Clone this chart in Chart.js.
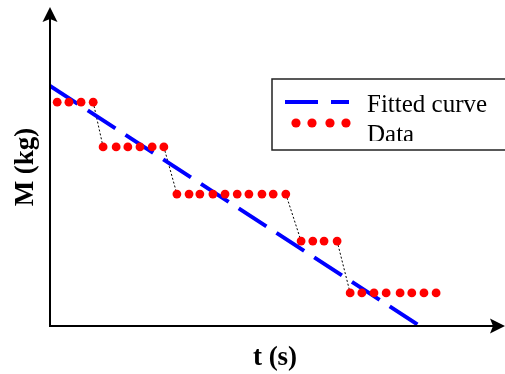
<!DOCTYPE html>
<html>
<head>
<meta charset="utf-8">
<script src="https://cdn.jsdelivr.net/npm/chart.js@4"></script>
<style>
html,body{margin:0;padding:0;background:#fff;}
#wrap{position:relative;width:505px;height:374px;}
</style>
</head>
<body>
<div id="wrap"><canvas id="c" width="505" height="374"></canvas></div>
<script>
// Data (arbitrary units: t in 0..100, M in 0..100)
const dataT = [1.6, 4.2, 6.9, 9.6,
  11.8, 14.7, 17.3, 20.0, 22.7, 25.3,
  28.2, 30.9, 33.3, 36.2, 38.9, 41.6, 44.2, 47.1, 49.6, 52.4,
  55.8, 58.4, 60.9, 63.8,
  66.7, 69.3, 72.0, 74.7, 77.8, 80.4, 83.1, 85.8];
const dataM = [70.4, 70.4, 70.4, 70.4,
  56.3, 56.3, 56.3, 56.3, 56.3, 56.3,
  41.5, 41.5, 41.5, 41.5, 41.5, 41.5, 41.5, 41.5, 41.5, 41.5,
  26.7, 26.7, 26.7, 26.7,
  10.4, 10.4, 10.4, 10.4, 10.4, 10.4, 10.4, 10.4];
const fitT = [0, 82.2];
const fitM = [75.5, 0];
// thin dotted links between consecutive steps (null = break)
const linkT = [9.6, 11.8, null, 25.3, 28.2, null, 52.4, 55.8, null, 63.8, 66.7];
const linkM = [70.4, 56.3, null, 56.3, 41.5, null, 41.5, 26.7, null, 26.7, 10.4];
const labels = ['Fitted curve', 'Data'];
const xTitle = 't (s)';
const yTitle = 'M (kg)';

const pts = (xs, ys) => xs.map((x, i) => (x === null ? {x: NaN, y: NaN} : {x: x, y: ys[i]}));

const axesPlugin = {
  id: 'axesArrows',
  afterDraw(chart) {
    const ctx = chart.ctx;
    const a = chart.chartArea;
    const x0 = a.left, y0 = a.bottom;
    ctx.save();
    ctx.strokeStyle = '#000';
    ctx.fillStyle = '#000';
    ctx.lineWidth = 2;
    ctx.beginPath();
    ctx.moveTo(x0, y0 + 1);
    ctx.lineTo(x0, a.top + 8);
    ctx.moveTo(x0 - 1, y0);
    ctx.lineTo(a.right - 3, y0);
    ctx.stroke();
    // y arrow
    const ty = a.top - 1;
    ctx.beginPath();
    ctx.moveTo(x0, ty);
    ctx.lineTo(x0 + 7.5, ty + 15);
    ctx.lineTo(x0, ty + 12);
    ctx.lineTo(x0 - 7.5, ty + 15);
    ctx.closePath();
    ctx.fill();
    // x arrow
    const tx = a.right + 5;
    ctx.beginPath();
    ctx.moveTo(tx, y0);
    ctx.lineTo(tx - 15, y0 - 7.5);
    ctx.lineTo(tx - 12, y0);
    ctx.lineTo(tx - 15, y0 + 7.5);
    ctx.closePath();
    ctx.fill();
    ctx.restore();

    // legend
    const lx = 272, ly = 79;
    ctx.save();
    ctx.strokeStyle = '#222';
    ctx.lineWidth = 1.5;
    ctx.strokeRect(lx, ly, 250, 71);
    ctx.strokeStyle = '#0000ff';
    ctx.lineWidth = 4;
    ctx.beginPath();
    ctx.moveTo(285, 102); ctx.lineTo(318, 102);
    ctx.moveTo(331, 102); ctx.lineTo(349, 102);
    ctx.stroke();
    ctx.fillStyle = '#ff0000';
    [296, 312, 330, 346].forEach(x => {
      ctx.beginPath(); ctx.arc(x, 123, 4.6, 0, Math.PI * 2); ctx.fill();
    });
    ctx.fillStyle = '#000';
    ctx.font = '25px "Liberation Serif"';
    ctx.textBaseline = 'alphabetic';
    ctx.textAlign = 'left';
    ctx.fillText(labels[0], 367, 112);
    ctx.beginPath();
    ctx.rect(lx, ly, 250, 141 - ly);
    ctx.clip();
    ctx.fillText(labels[1], 367, 142);
    ctx.restore();
  }
};

new Chart(document.getElementById('c'), {
  type: 'scatter',
  data: {
    datasets: [
      {
        label: labels[1],
        data: pts(dataT, dataM),
        showLine: false,
        pointRadius: 4.4,
        pointHoverRadius: 4.4,
        pointBackgroundColor: '#ff0000',
        pointBorderWidth: 0,
        order: 1
      },
      {
        label: labels[0],
        data: pts(fitT, fitM),
        showLine: true,
        borderColor: '#0000ff',
        borderWidth: 4,
        borderDash: [33, 12],
        pointRadius: 0,
        order: 2
      },
      {
        label: 'links',
        data: pts(linkT, linkM),
        showLine: true,
        spanGaps: false,
        borderColor: '#000',
        borderWidth: 1,
        borderDash: [2, 2],
        pointRadius: 0,
        order: 3
      }
    ]
  },
  options: {
    responsive: false,
    animation: false,
    events: [],
    layout: {padding: {left: 4, right: 5, top: 8, bottom: 0}},
    plugins: {legend: {display: false}, tooltip: {enabled: false}},
    scales: {
      x: {
        type: 'linear', min: 0, max: 100,
        grid: {display: false, drawTicks: false},
        border: {display: false},
        ticks: {display: false},
        title: {display: true, text: xTitle, color: '#000',
          font: {family: 'Liberation Serif', size: 27, weight: 'bold'},
          padding: {top: 15.6, bottom: 0}}
      },
      y: {
        type: 'linear', min: 0, max: 100,
        grid: {display: false, drawTicks: false},
        border: {display: false},
        ticks: {display: false},
        title: {display: true, text: yTitle, color: '#000',
          font: {family: 'Liberation Serif', size: 27, weight: 'bold'},
          padding: {top: 5.8, bottom: 7.8}}
      }
    }
  },
  plugins: [axesPlugin]
});
</script>
</body>
</html>
